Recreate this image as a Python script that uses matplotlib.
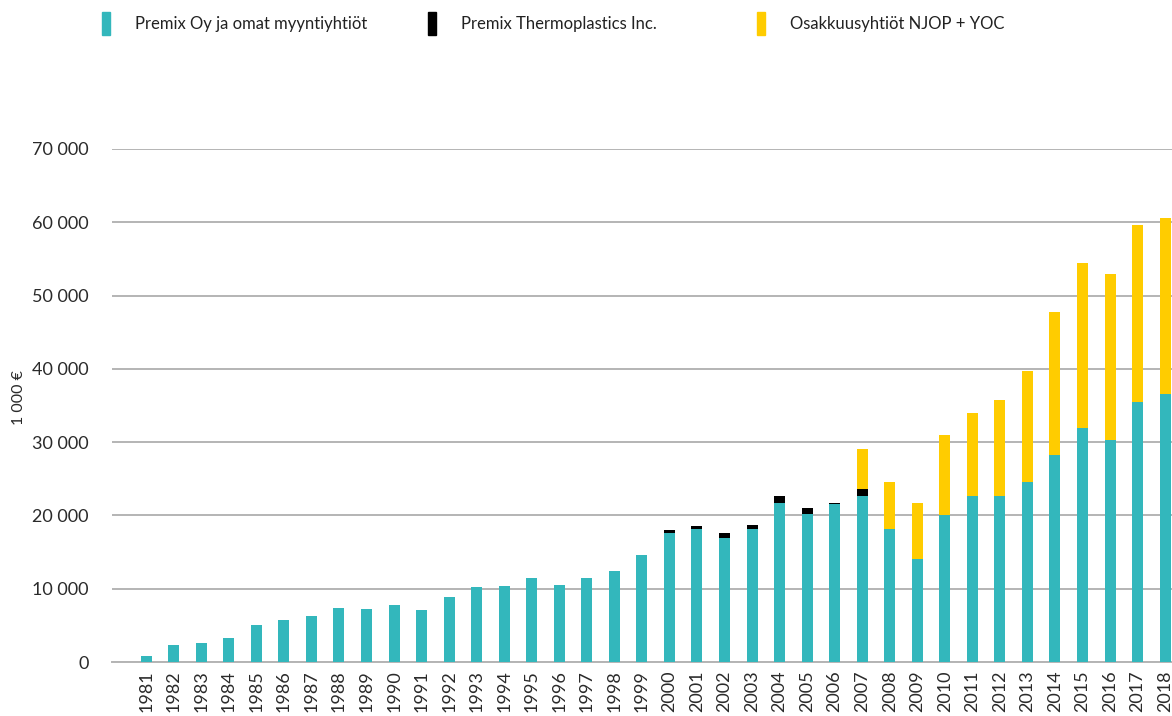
import matplotlib.pyplot as plt
from matplotlib.patches import Rectangle
from matplotlib.ticker import FuncFormatter
import numpy as np

plt.rcParams['font.family'] = ['Lato', 'DejaVu Sans']

years = [str(y) for y in range(1981, 2019)]

# Premix Oy ja omat myyntiyhtiöt (1000 €)
premix = [800, 2300, 2600, 3300, 5000, 5700, 6300, 7400, 7200, 7800,
          7100, 8900, 10200, 10400, 11500, 10500, 11500, 12400, 14600, 17600,
          18100, 16900, 18100, 21700, 20200, 21600, 22600, 18100, 14100, 20000,
          22600, 22600, 24600, 28200, 31900, 30300, 35500, 36600]

# Premix Thermoplastics Inc.
thermo = [0] * 19 + [400, 400, 700, 600, 950, 800, 150, 950] + [0] * 11

# Osakkuusyhtiöt NJOP + YOC
njop = [0] * 26 + [5500, 6500, 7600, 11000, 11400, 13100, 15100, 19500,
                   22500, 22600, 24100, 24000]

labels = ['Premix Oy ja omat myyntiyhtiöt', 'Premix Thermoplastics Inc.',
          'Osakkuusyhtiöt NJOP + YOC']
colors = ['#33b7bc', '#000000', '#ffcc00']

fig = plt.figure(figsize=(11.72, 7.16), dpi=100)
ax = fig.add_axes([0.0956, 0.0754, 0.9044, 0.7166])

x = np.arange(len(years))
premix = np.array(premix)
thermo = np.array(thermo)
njop = np.array(njop)
w = 0.4
ax.bar(x, premix, w, color=colors[0], zorder=3)
ax.bar(x, thermo, w, bottom=premix, color=colors[1], zorder=3)
ax.bar(x, njop, w, bottom=premix + thermo, color=colors[2], zorder=3)

ax.set_xlim(-1.24, len(years) - 0.75)
ax.set_ylim(0, 70000)
ax.set_yticks(range(0, 70001, 10000))
ax.yaxis.set_major_formatter(FuncFormatter(lambda v, p: f'{int(v):,}'.replace(',', ' ')))
ax.set_xticks(x)
ax.set_xticklabels(years, rotation=90)
ax.grid(axis='y', color='#b4b4b4', linewidth=1.4, zorder=0)
for s in ['top', 'right', 'left']:
    ax.spines[s].set_visible(False)
ax.spines['bottom'].set_color('#b4b4b4')
ax.spines['bottom'].set_linewidth(1.4)
ax.tick_params(axis='y', length=0, pad=17, labelsize=13, colors='#2a2a2a')
ax.tick_params(axis='x', length=0, pad=6, labelsize=13, colors='#2a2a2a')

fig.text(0.016, 0.445, '1 000 €', rotation=90, ha='center', va='center',
         fontsize=11.5, color='#2a2a2a')

# legend
leg_x = [0.087, 0.365, 0.646]
for lx, lab, c in zip(leg_x, labels, colors):
    fig.patches.append(Rectangle((lx, 0.951), 0.0068, 0.032, color=c,
                                 transform=fig.transFigure, figure=fig))
    fig.text(lx + 0.028, 0.967, lab, ha='left', va='center', fontsize=12,
             color='#222222')

fig.savefig('out.png', dpi=100)
